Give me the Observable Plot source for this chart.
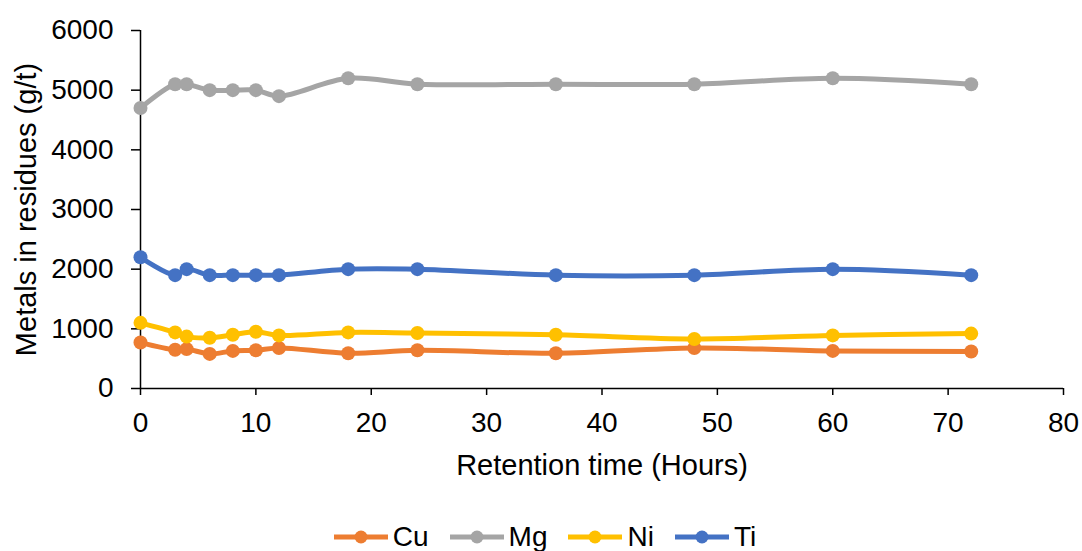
<!DOCTYPE html>
<html>
<head>
<meta charset="utf-8">
<script src="https://cdn.jsdelivr.net/npm/d3@7"></script>
<script src="https://cdn.jsdelivr.net/npm/@observablehq/plot@0.6"></script>
<style>
  html, body { margin: 0; padding: 0; background: #fff; }
  body { width: 1082px; height: 551px; overflow: hidden; font-family: "Liberation Sans", Arial, sans-serif; }
  #legend { display: flex; justify-content: center; align-items: center; gap: 21px; height: 32px; margin-top: 16px; padding-left: 8px; font-size: 28px; color: #000; }
  .item { display: flex; align-items: center; gap: 5px; }
  .item svg { display: block; }
</style>
</head>
<body>
<div id="chart"></div>
<div id="legend"></div>
<script>
const hours = [0, 3, 4, 6, 8, 10, 12, 18, 24, 36, 48, 60, 72];
const metals = ["Cu", "Mg", "Ni", "Ti"];
const colors = ["#ED7D31", "#A5A5A5", "#FFC000", "#4472C4"];
const cu = [770, 650, 660, 580, 630, 640, 680, 590, 640, 590, 680, 630, 620];
const mg = [4700, 5100, 5100, 5000, 5000, 5000, 4900, 5200, 5100, 5100, 5100, 5200, 5100];
const ni = [1100, 940, 870, 850, 900, 950, 890, 940, 930, 900, 830, 890, 920];
const ti = [2200, 1900, 2000, 1900, 1900, 1900, 1900, 2000, 2000, 1900, 1900, 2000, 1900];
const xTicks = [0, 10, 20, 30, 40, 50, 60, 70, 80];
const yTicks = [0, 1000, 2000, 3000, 4000, 5000, 6000];
const xTitle = "Retention time (Hours)";
const yTitle = "Metals in residues (g/t)";

const seriesValues = [cu, mg, ni, ti];
const data = metals.flatMap((m, i) => hours.map((h, j) => ({metal: m, hour: h, value: seriesValues[i][j]})));

const seriesMarks = metals.flatMap((m, i) => {
  const rows = data.filter(d => d.metal === m);
  return [
    Plot.line(rows, {x: "hour", y: "value", stroke: colors[i], strokeWidth: 5, curve: "catmull-rom"}),
    Plot.dot(rows, {x: "hour", y: "value", fill: colors[i], r: 7})
  ];
});

const chart = Plot.plot({
  width: 1082,
  height: 505,
  marginLeft: 140,
  marginRight: 19,
  marginTop: 30,
  marginBottom: 117,
  style: {fontFamily: "Liberation Sans, Arial, sans-serif", fontSize: "28px", color: "#000", background: "#fff"},
  x: {domain: [0, 80]},
  y: {domain: [0, 6000]},
  marks: [
    Plot.axisX({ticks: xTicks, tickSize: 7, tickPadding: 17, label: null, strokeWidth: 1.5, tickFormat: d => String(d)}),
    Plot.axisY({ticks: yTicks, tickSize: 9, tickPadding: 18, label: null, strokeWidth: 1.5, tickFormat: d => String(d)}),
    Plot.ruleY([0], {stroke: "#000", strokeWidth: 1.5}),
    Plot.ruleX([0], {stroke: "#000", strokeWidth: 1.5}),
    ...seriesMarks,
    Plot.text([xTitle], {text: d => d, frameAnchor: "bottom", textAnchor: "middle", dy: 77, lineAnchor: "middle", fontSize: 29}),
    Plot.text([yTitle], {text: d => d, frameAnchor: "left", textAnchor: "middle", dx: -114, rotate: -90, lineAnchor: "middle", fontSize: 29})
  ]
});
document.getElementById("chart").appendChild(chart);

const legend = document.getElementById("legend");
metals.forEach((m, i) => {
  const item = document.createElement("div");
  item.className = "item";
  item.innerHTML = `<svg width="54" height="16"><line x1="0" x2="54" y1="8" y2="8" stroke="${colors[i]}" stroke-width="5"/><circle cx="27" cy="8" r="6.5" fill="${colors[i]}"/></svg><span>${m}</span>`;
  legend.appendChild(item);
});
</script>
</body>
</html>
